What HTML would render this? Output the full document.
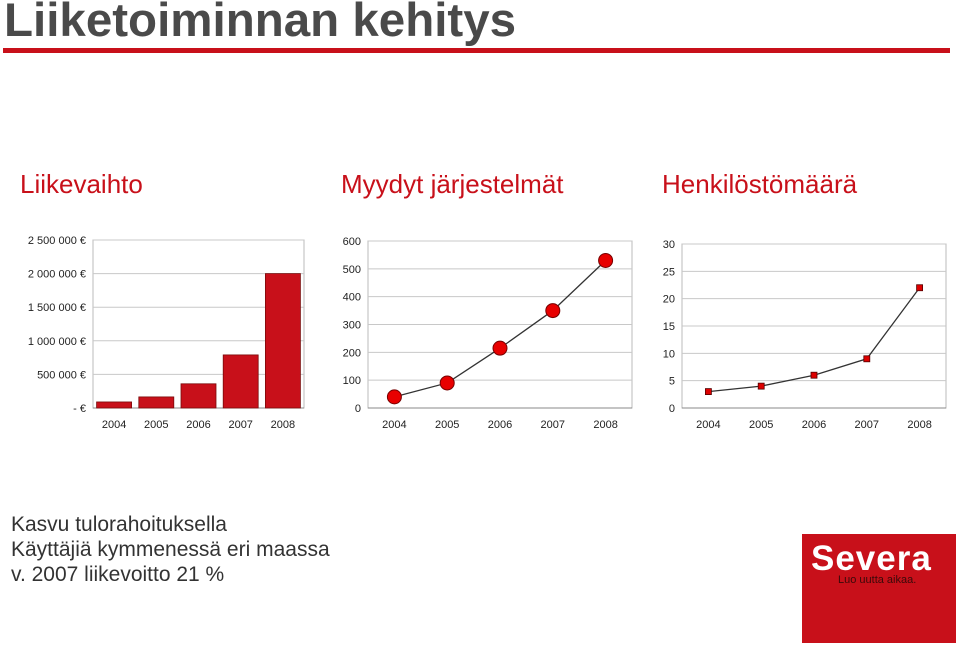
<!DOCTYPE html>
<html><head><meta charset="utf-8"><style>
body{margin:0;width:960px;height:649px;background:#fff;position:relative;overflow:hidden;font-family:"Liberation Sans",sans-serif}
.t{position:absolute;white-space:nowrap}
</style></head><body>
<div class="t" style="left:4px;top:-7px;font-size:47.5px;font-weight:bold;color:#4a4a4a">Liiketoiminnan kehitys</div>
<div style="position:absolute;left:3px;top:48px;width:947px;height:5px;background:#c8101a"></div>
<div class="t" style="left:20px;top:169px;font-size:26px;color:#c8101a">Liikevaihto</div>
<div class="t" style="left:341px;top:169px;font-size:26px;color:#c8101a">Myydyt järjestelmät</div>
<div class="t" style="left:662px;top:169px;font-size:26px;color:#c8101a">Henkilöstömäärä</div>
<svg id="c" width="960" height="649" style="position:absolute;left:0;top:0"></svg>
<div class="t" style="left:11px;top:513px;font-size:21px;color:#333">Kasvu tulorahoituksella</div>
<div class="t" style="left:11px;top:538px;font-size:21px;color:#333">Käyttäjiä kymmenessä eri maassa</div>
<div class="t" style="left:11px;top:563px;font-size:21px;color:#333">v. 2007 liikevoitto 21 %</div>
<div style="position:absolute;left:802px;top:534px;width:154px;height:109px;background:#c8101a">
<div class="t" style="left:9px;top:5px;font-size:35px;font-weight:bold;color:#fff;letter-spacing:1px">Severa</div>
<div class="t" style="left:36px;top:40px;font-size:11px;color:#3a0a0a">Luo uutta aikaa.</div>
</div>
<script>
const years=["2004","2005","2006","2007","2008"];
const revenue=[90000,165000,360000,790000,2000000];
const revTicks=["-      €","500 000 €","1 000 000 €","1 500 000 €","2 000 000 €","2 500 000 €"];
const systems=[40,90,215,350,530];
const sysTicks=["0","100","200","300","400","500","600"];
const staff=[3,4,6,9,22];
const staffTicks=["0","5","10","15","20","25","30"];
const svg=document.getElementById('c');const NS="http://www.w3.org/2000/svg";
function mk(t,a,p){const e=document.createElementNS(NS,t);for(const k in a)e.setAttribute(k,a[k]);(p||svg).appendChild(e);return e;}
function frame(x0,x1,y0,y1,max,step,ticks,name){
 const g=mk('g',{});
 
 
 const y=v=>y1-(v/max)*(y1-y0);
 mk('rect',{x:x0,y:y0,width:x1-x0,height:y1-y0,fill:'#fff',stroke:'#bbb'},g);
 ticks.forEach((t,i)=>{const yy=y(i*step);
  if(i>0)mk('line',{x1:x0,x2:x1,y1:yy,y2:yy,stroke:'#c8c8c8'},g);
  const tx=mk('text',{x:x0-7,y:yy+4,'text-anchor':'end','font-size':11,fill:'#222','font-family':'Liberation Sans'},g);tx.textContent=t;});
 mk('line',{x1:x0,x2:x1,y1:y1,y2:y1,stroke:'#888'},g);
 const bw=(x1-x0)/years.length;const x=i=>x0+bw*(i+0.5);
 years.forEach((yr,i)=>{const tx=mk('text',{x:x(i),y:y1+20,'text-anchor':'middle','font-size':11,fill:'#222','font-family':'Liberation Sans'},g);tx.textContent=yr;});
 return {g,x,y,bw};
}
let A=frame(93,304,240,408,2500000,500000,revTicks,'revenue-chart');
revenue.forEach((v,i)=>{const r=mk('rect',{x:A.x(i)-17.5,y:A.y(v),width:35,height:408-A.y(v),fill:'#c8101a',stroke:'#7a0a0a','stroke-width':0.8},A.g);
 
 });
let B=frame(368,632,241,408,600,100,sysTicks,'systems-chart');
mk('polyline',{points:systems.map((v,i)=>B.x(i)+','+B.y(v)).join(' '),fill:'none',stroke:'#333','stroke-width':1.3},B.g);
systems.forEach((v,i)=>{const c=mk('circle',{cx:B.x(i),cy:B.y(v),r:7,fill:'#e80000',stroke:'#700','stroke-width':1},B.g);
 
 });
let C=frame(682,946,244,408,30,5,staffTicks,'staff-chart');
mk('polyline',{points:staff.map((v,i)=>C.x(i)+','+C.y(v)).join(' '),fill:'none',stroke:'#333','stroke-width':1.3},C.g);
staff.forEach((v,i)=>{const s=mk('rect',{x:C.x(i)-3,y:C.y(v)-3,width:6,height:6,fill:'#d00',stroke:'#500','stroke-width':0.8},C.g);
 
 });
</script>
</body></html>
